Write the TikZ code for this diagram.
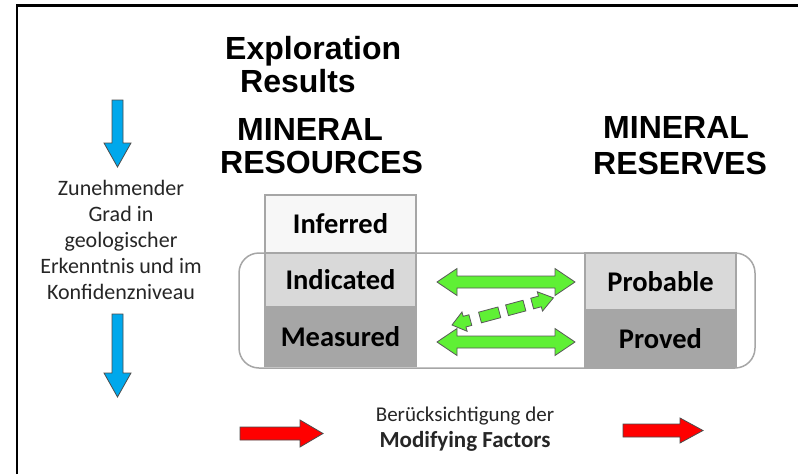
\documentclass[tikz,border=0pt]{standalone}
\usepackage{fontspec}
\setmainfont{Carlito}
\newfontfamily\arialfont{Liberation Sans}
\definecolor{bluearr}{HTML}{00A8EC}
\definecolor{greenarr}{HTML}{5FF035}
\definecolor{redarr}{HTML}{FF0000}
\definecolor{boxline}{HTML}{A6A6A6}
\definecolor{infl}{HTML}{F7F7F7}
\definecolor{indl}{HTML}{D9D9D9}
\definecolor{measl}{HTML}{A6A6A6}
\begin{document}
\begin{tikzpicture}[x=1pt,y=-1pt,
  head/.style={inner sep=0pt, anchor=base west, font=\arialfont\bfseries\fontsize{32}{34}\selectfont},
  sidetext/.style={inner sep=0pt, anchor=base, font=\fontsize{22}{26}\selectfont, text=black!85},
  bottomtext/.style={inner sep=0pt, anchor=base, font=\fontsize{21}{26}\selectfont, text=black!85},
  cell/.style={draw=boxline, line width=1.5pt, minimum width=151pt, inner sep=0pt,
    font=\bfseries\fontsize{28.5}{30}\selectfont},
  greenshape/.style={fill=greenarr, draw=black!65, line width=0.8pt, line join=miter},
  redshape/.style={fill=redarr, draw=black!70, line width=0.8pt},
  blueshape/.style={fill=bluearr, draw=black!70, line width=0.8pt}]
\useasboundingbox (0,0) rectangle (798,474);
\fill[white] (0,0) rectangle (798,474);

% frame
\draw[line width=2.2pt] (17,474) -- (17,5.5) -- (798,5.5);

% headings
\node[head] (h1) at (225,59) {Exploration};
\node[head] (h2) at (240,92) {Results};
\node[head] (h3) at (237,140) {MINERAL};
\node[head] (h4) at (220,173) {RESOURCES};
\node[head] (h5) at (603,138) {MINERAL};
\node[head] (h6) at (593,174) {RESERVES};

% container
\node[draw=boxline, line width=1.5pt, fill=white, rounded corners=20pt,
  minimum width=516pt, minimum height=115pt, inner sep=0pt] (container) at (497,310.5) {};

% cells
\node[cell, fill=infl, minimum height=58pt] (inf) at (340.5,224) {Inferred};
\node[cell, fill=indl, minimum height=54pt] (ind) at (340.5,280) {Indicated};
\node[cell, fill=measl, minimum height=59pt] (mea) at (340.5,336.5) {Measured};
\node[cell, fill=indl, minimum height=57pt] (pro) at (660.5,281.5) {Probable};
\node[cell, fill=measl, minimum height=57pt] (prv) at (660.5,338.5) {Proved};

% green double arrows
\draw[greenshape] (437,282) -- (457,268.5) -- (457,276) -- (555,276) -- (555,268.5) -- (575,282)
  -- (555,295.5) -- (555,288) -- (457,288) -- (457,295.5) -- cycle;
\draw[greenshape] (437,342) -- (457,328.5) -- (457,336) -- (555,336) -- (555,328.5) -- (575,342)
  -- (555,355.5) -- (555,348) -- (457,348) -- (457,355.5) -- cycle;

% dashed green double arrow
\begin{scope}[shift={(452,325)}, rotate=15]
  \draw[greenshape] (0,0) -- (13,-10) -- (13,-5.5) -- (19,-5.5) -- (19,5.5) -- (13,5.5) -- (13,10) -- cycle;
  \draw[greenshape] (29,-5.5) rectangle (49,5.5);
  \draw[greenshape] (57,-5.5) rectangle (75,5.5);
  \draw[greenshape] (83,-5.5) -- (91,-5.5) -- (91,-10) -- (105,0) -- (91,10) -- (91,5.5) -- (83,5.5) -- cycle;
\end{scope}

% blue arrows
\draw[blueshape] (112,100) -- (123,100) -- (123,143) -- (131,143) -- (117.5,167) -- (104,143) -- (112,143) -- cycle;
\draw[blueshape] (112,314) -- (123,314) -- (123,373) -- (131,373) -- (117.5,397) -- (104,373) -- (112,373) -- cycle;

% side text
\node[sidetext] (l1) at (121,195) {Zunehmender};
\node[sidetext] (l2) at (121,221) {Grad in};
\node[sidetext] (l3) at (121,247) {geologischer};
\node[sidetext] (l4) at (121,273) {Erkenntnis und im};
\node[sidetext] (l5) at (121,299) {Konfidenzniveau};

% red arrows
\draw[redshape] (240,427) -- (300,427) -- (300,420) -- (323,433.5) -- (300,447) -- (300,440) -- (240,440) -- cycle;
\draw[redshape] (623,424) -- (680,424) -- (680,418) -- (703,430.5) -- (680,443) -- (680,437) -- (623,437) -- cycle;

% bottom text
\node[bottomtext] (b1) at (465,421) {Berücksichtigung der};
\node[bottomtext, font=\bfseries\fontsize{23}{26}\selectfont] (b2) at (465,447) {Modifying Factors};
\end{tikzpicture}
\end{document}
